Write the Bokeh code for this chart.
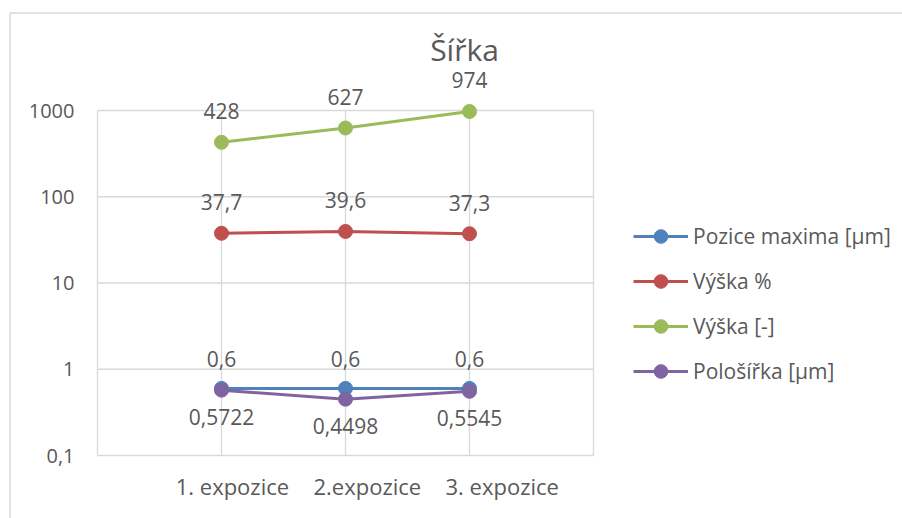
import math
from bokeh.plotting import figure
from bokeh.models import Range1d, LabelSet, Label, Legend, LegendItem, ColumnDataSource
from bokeh.core.properties import value
from bokeh.embed import file_html
from bokeh.resources import INLINE

# ---- data ----
categories = ["1. expozice", "2.expozice", "3. expozice"]
series_names = ["Pozice maxima [µm]", "Výška %", "Výška [-]", "Pološířka [µm]"]
pozice_maxima = [0.6, 0.6, 0.6]
vyska_pct = [37.7, 39.6, 37.3]
vyska_abs = [428, 627, 974]
polosirka = [0.5722, 0.4498, 0.5545]
y_ticks = [0.1, 1, 10, 100, 1000]
y_tick_labels = ["0,1", "1", "10", "100", "1000"]
title_text = "Šířka"

# ---- style / layout ----
FONT = value("Open Sans")
TXT = "#595959"
GRID = "#d9d9d9"
colors = ["#4F81BD", "#C0504D", "#9BBB59", "#8064A2"]
label_offsets = [29, 31, 31, -27]
FS = "21px"

W, H = 902, 518
PX_X = 124.0          # pixels per category step
PX_DEC = 86.25        # pixels per decade
OX, OY = 97, 110      # canvas position of the plot-area top-left corner

xs = [i + 1 for i in range(len(categories))]
x_min, x_max = 0, len(categories) + 1
x_lo = x_min - OX / PX_X
x_hi = x_lo + W / PX_X
ly_hi = math.log10(y_ticks[-1]) + OY / PX_DEC
ly_lo = ly_hi - H / PX_DEC

p = figure(width=W, height=H, x_range=Range1d(x_lo, x_hi),
           y_range=Range1d(10 ** ly_lo, 10 ** ly_hi), y_axis_type="log",
           output_backend="svg", toolbar_location=None, title=None,
           min_border_left=0, min_border_right=0, min_border_top=0, min_border_bottom=0)
p.axis.visible = False
p.grid.visible = False
p.outline_line_color = None
p.background_fill_color = "white"
p.border_fill_color = "white"

# chart-area border (left and top edges)
bx = x_lo + 9.5 / PX_X
by = 10 ** (ly_hi - 12.5 / PX_DEC)
p.segment(x0=[bx, bx], x1=[bx, x_hi], y0=[10 ** ly_lo, by], y1=[by, by],
          line_color=GRID, line_width=1.5)

# plot-area grid and frame lines
p.segment(x0=[x_min] * len(y_ticks), x1=[x_max] * len(y_ticks), y0=y_ticks, y1=y_ticks,
          line_color=GRID, line_width=1.3)
vx = list(range(x_min, x_max + 1))
p.segment(x0=vx, x1=vx, y0=[y_ticks[0]] * len(vx), y1=[y_ticks[-1]] * len(vx),
          line_color=GRID, line_width=1.3)

# y tick labels
ysrc = ColumnDataSource(dict(x=[x_min] * len(y_ticks), y=y_ticks, t=y_tick_labels))
p.add_layout(LabelSet(x="x", y="y", text="t", source=ysrc, x_offset=-23,
                      text_align="right", text_baseline="middle",
                      text_font=FONT, text_font_size="20px", text_color=TXT))
# x tick labels
label_scale = 1.088
x_label_pos = [x * label_scale for x in xs]
xsrc = ColumnDataSource(dict(x=x_label_pos, y=[y_ticks[0]] * len(xs), t=categories))
p.add_layout(LabelSet(x="x", y="y", text="t", source=xsrc, y_offset=-30,
                      text_align="center", text_baseline="middle",
                      text_font=FONT, text_font_size="22px", text_color=TXT))

all_series = [pozice_maxima, vyska_pct, vyska_abs, polosirka]
items = []
for name, vals, col, off in zip(series_names, all_series, colors, label_offsets):
    src = ColumnDataSource(dict(x=xs, y=vals,
                                t=[f"{v:g}".replace(".", ",") for v in vals]))
    l = p.line("x", "y", source=src, line_color=col, line_width=3)
    s = p.scatter("x", "y", source=src, size=14, fill_color=col, line_color=col)
    items.append(LegendItem(label=name, renderers=[l, s]))
    p.add_layout(LabelSet(x="x", y="y", text="t", source=src, y_offset=off,
                          text_align="center", text_baseline="middle",
                          text_font=FONT, text_font_size=FS, text_color=TXT))

legend = Legend(items=items, location=(633, 130), orientation="vertical",
                glyph_width=55, glyph_height=34, spacing=11, label_standoff=5,
                padding=0, margin=0, border_line_color=None,
                background_fill_alpha=0,
                label_text_font="Open Sans", label_text_font_size="21px",
                label_text_color=TXT)
p.add_layout(legend)

p.add_layout(Label(x=464, y=469, x_units="screen", y_units="screen", text=title_text,
                   text_align="center", text_baseline="middle", text_font="Open Sans",
                   text_font_size="30px", text_color=TXT))

open("out.html", "w").write(file_html(p, INLINE))
